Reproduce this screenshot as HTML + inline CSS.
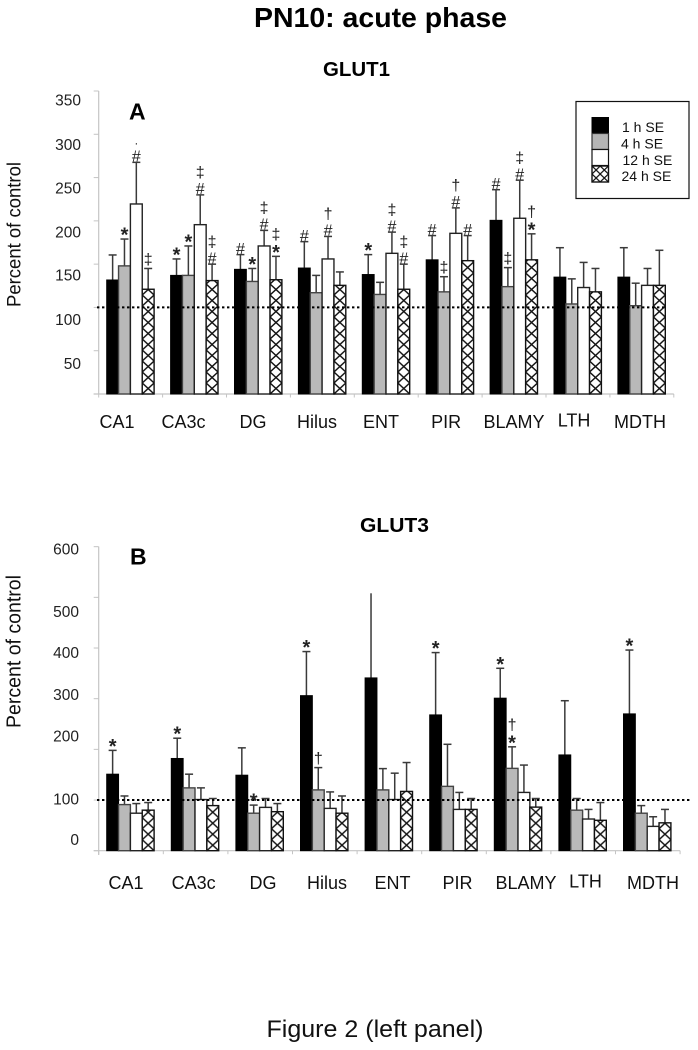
<!DOCTYPE html>
<html lang="en">
<head>
<meta charset="utf-8">
<title>PN10: acute phase</title>
<style>
html,body{margin:0;padding:0;background:#fff;}
svg{display:block;font-family:"Liberation Sans",sans-serif;}
</style>
</head>
<body>
<svg id="figure" xmlns="http://www.w3.org/2000/svg" width="698" height="1050" viewBox="0 0 698 1050">
  <defs id="defs">
    <pattern id="hatch-legend" patternUnits="userSpaceOnUse" width="8.2" height="8" x="592" y="166">
      <rect width="8.2" height="8" fill="#fff"/>
      <path d="M0 0L8.2 8M8.2 0L0 8" stroke="#111" stroke-width="1.2" fill="none"/>
    </pattern>
  </defs>
  <text x="254" y="27" font-size="27.5" font-weight="bold" textLength="253" lengthAdjust="spacingAndGlyphs" fill="#000">PN10: acute phase</text>
  <text x="323" y="76" font-size="20" font-weight="bold" textLength="67" lengthAdjust="spacingAndGlyphs" fill="#000">GLUT1</text>
  <text x="360" y="532" font-size="20" font-weight="bold" textLength="69" lengthAdjust="spacingAndGlyphs" fill="#000">GLUT3</text>
  <text x="129" y="119.5" font-size="23" font-weight="bold" fill="#000">A</text>
  <text x="130" y="564.5" font-size="23" font-weight="bold" fill="#000">B</text>
  <text transform="translate(20.5,307) rotate(-90)" font-size="19.5" textLength="145" lengthAdjust="spacingAndGlyphs" fill="#111">Percent of control</text>
  <text transform="translate(20.5,728) rotate(-90)" font-size="20" textLength="153" lengthAdjust="spacingAndGlyphs" fill="#111">Percent of control</text>
  <text x="266.5" y="1037" font-size="24" textLength="217" lengthAdjust="spacingAndGlyphs" fill="#111">Figure 2 (left panel)</text>
  <g id="chart-a"></g>
  <g id="chart-b"></g>
  <g>
    <rect x="576" y="101.5" width="113" height="97" fill="#fff" stroke="#111" stroke-width="1.2"/>
    <rect x="592" y="117.5" width="16.5" height="16" fill="#000" stroke="#000" stroke-width="1"/>
    <rect x="592" y="133.5" width="16.5" height="16" fill="#b5b5b5" stroke="#333" stroke-width="1.2"/>
    <rect x="592" y="149.5" width="16.5" height="16" fill="#fff" stroke="#111" stroke-width="1.2"/>
    <rect x="592" y="166" width="16.5" height="16" fill="url(#hatch-legend)" stroke="#111" stroke-width="1.4"/>
    <text x="622" y="132" font-size="14" fill="#111">1 h SE</text>
    <text x="621" y="148.3" font-size="14" fill="#111">4 h SE</text>
    <text x="622.5" y="165" font-size="14" fill="#111">12 h SE</text>
    <text x="621.5" y="181" font-size="14" fill="#111">24 h SE</text>
  </g>
</svg>
<script>
// ---------- data ----------
const categories = ['CA1', 'CA3c', 'DG', 'Hilus', 'ENT', 'PIR', 'BLAMY', 'LTH', 'MDTH'];
const seriesNames = ['1h', '4h', '12h', '24h'];

const glut1Mean1h = [131.7, 137, 144, 145.5, 138, 155, 200.6, 135, 135];
const glut1Mean4h = [148, 137, 130, 117, 115, 118, 124, 104, 102];
const glut1Mean12h = [219.5, 195.6, 171, 156, 162.5, 185.6, 203, 123, 125.5];
const glut1Mean24h = [121, 131, 132, 125.5, 121, 154, 155, 118, 125.5];
const glut1Upper1h = [160.6, 156, 161, 176, 161, 183, 236, 169, 169];
const glut1Upper4h = [179, 171, 145, 137, 129, 135.5, 146, 133, 128];
const glut1Upper12h = [267.6, 230, 189, 182, 187, 215, 247, 152, 145];
const glut1Upper24h = [145, 150, 159, 141, 150, 183, 185, 145, 166];
const glut1Marks1h = ['', '*', '#', '#', '*', '#', '#', '', ''];
const glut1Marks4h = ['*', '*', '*', '', '', '‡', '‡', '', ''];
const glut1Marks12h = ['#·', '#‡', '#‡', '#†', '#‡', '#†', '#‡', '', ''];
const glut1Marks24h = ['‡', '#‡', '*‡', '', '#‡', '#', '*†', '', ''];
const glut1Ticks = [0, 50, 100, 150, 200, 250, 300, 350];
const glut1TickLabels = [350, 300, 250, 200, 150, 100, 50];
const glut1Reference = 100;

const glut3Mean1h = [151, 182, 149, 306, 341, 268, 301, 189, 270];
const glut3Mean4h = [91, 124, 74, 120, 120, 127, 162.5, 80, 74];
const glut3Mean12h = [74, 101, 85.5, 83.5, 101, 81.5, 115, 62.5, 48];
const glut3Mean24h = [80, 89, 77, 74, 117, 81.5, 86, 60, 55];
const glut3Upper1h = [198, 222, 203, 393, 508, 391, 360, 296, 396];
const glut3Upper4h = [108, 151, 90, 164, 162, 210, 205, 103, 89];
const glut3Upper12h = [93, 124, 103, 116, 153, 115, 169, 81.5, 67];
const glut3Upper24h = [95, 103, 93, 108, 174, 103, 103, 95, 81.5];
const glut3Marks1h = ['*', '*', '', '*', '', '*', '*', '', '*'];
const glut3Marks4h = ['', '', '*', '†', '', '', '*†', '', ''];
const glut3Marks12h = ['', '', '', '', '', '', '', '', ''];
const glut3Marks24h = ['', '', '', '', '', '', '', '', ''];
const glut3Ticks = [0, 100, 200, 300, 400, 500, 600];
const glut3TickLabels = [600, 500, 400, 300, 200, 100, 0];
const glut3Reference = 100;

// ---------- layout ----------
const SVG_NS = 'http://www.w3.org/2000/svg';
const BAR_W = 11.85;
const seriesFill = ['#000', '#b9b9b9', '#fff', 'hatch'];
const seriesStroke = ['#000', '#444', '#222', '#111'];
const symbolHalf = {'*': 5, '#': 6.3, '‡': 9, '†': 9, '·': 5};
const symbolSize = {'*': 20, '#': 16, '‡': 16, '†': 16, '·': 12};
const symbolDrop = {'*': 7.5, '#': 5.6, '‡': 5, '†': 5, '·': 3};
const symbolStep = {'*': 8, '#': 7, '‡': 9, '†': 9, '·': 5};

const chartAConfig = {
  root: 'chart-a', prefix: 'glut1', axisX: 98.7, catWidth: 63.9, baseY: 394, pxPerUnit: 0.8657,
  tickMax: 350, refEnd: 665, axisBottom: 394, labelRight: 81, catBaseline: 428,
  catNudge: [-13.6, -11, -5.4, -5.3, -5.2, -4, 0, -3.9, -1.8],
  catDrop: [0, 0, 0, 0, 0, 0, 0, -1.5, 0],
  tickLabelShift: [9, 10, 10.5, 11, 11, 12, 12.5],
  ticks: glut1Ticks, tickLabels: glut1TickLabels, reference: glut1Reference,
  means: [glut1Mean1h, glut1Mean4h, glut1Mean12h, glut1Mean24h],
  uppers: [glut1Upper1h, glut1Upper4h, glut1Upper12h, glut1Upper24h],
  marks: [glut1Marks1h, glut1Marks4h, glut1Marks12h, glut1Marks24h],
  uncapped: []
};
const chartBConfig = {
  root: 'chart-b', prefix: 'glut3', axisX: 98.7, catWidth: 64.6, baseY: 850.7, pxPerUnit: 0.5067,
  tickMax: 600, refEnd: 692, axisBottom: 855, labelRight: 79, catBaseline: 889,
  catNudge: [-5, -2, 2.8, 2.2, 3.1, 3.5, 7.4, 2.3, 5.2],
  catDrop: [0, 0, 0, 0, 0, 0, 0, -1.5, 0],
  tickLabelShift: [2, 14, 4.6, -4.4, -13.6, -1, -11.4],
  ticks: glut3Ticks, tickLabels: glut3TickLabels, reference: glut3Reference,
  means: [glut3Mean1h, glut3Mean4h, glut3Mean12h, glut3Mean24h],
  uppers: [glut3Upper1h, glut3Upper4h, glut3Upper12h, glut3Upper24h],
  marks: [glut3Marks1h, glut3Marks4h, glut3Marks12h, glut3Marks24h],
  uncapped: ['4:0']
};

function drawChart(cfg) {
  const root = document.getElementById(cfg.root);
  const defs = document.getElementById('defs');
  const yPos = function (v) { return cfg.baseY - v * cfg.pxPerUnit; };
  const catStart = function (i) { return cfg.axisX + i * cfg.catWidth; };
  const barX = function (i, s) { return catStart(i) + 8 + s * BAR_W; };
  const make = function (tag, attrs, parent) {
    const node = document.createElementNS(SVG_NS, tag);
    Object.keys(attrs).forEach(function (k) { node.setAttribute(k, attrs[k]); });
    (parent || root).appendChild(node);
    return node;
  };

  const yAxis = make('line', {x1: cfg.axisX, x2: cfg.axisX, y1: yPos(cfg.tickMax), y2: cfg.axisBottom, stroke: '#c4c4c4', 'stroke-width': 1.2});
  
  
  const xAxis = make('line', {x1: cfg.axisX - 5, x2: catStart(categories.length), y1: cfg.baseY, y2: cfg.baseY, stroke: '#c4c4c4', 'stroke-width': 1.2});
  
  

  cfg.ticks.forEach(function (v) {
    const tick = make('line', {x1: cfg.axisX - 5, x2: cfg.axisX, y1: yPos(v), y2: yPos(v), stroke: '#c4c4c4', 'stroke-width': 1});
    
    
  });
  cfg.tickLabels.forEach(function (v, k) {
    const label = make('text', {x: cfg.labelRight, y: yPos(v) + cfg.tickLabelShift[k] + 5.6, 'text-anchor': 'end', 'font-size': 15.5, fill: '#222'});
    label.textContent = String(v);
    
    
  });
  for (let i = 0; i <= categories.length; i++) {
    const tick = make('line', {x1: catStart(i), x2: catStart(i), y1: cfg.baseY, y2: cfg.baseY + 3.5, stroke: '#c4c4c4', 'stroke-width': 1});
    
    
  }
  categories.forEach(function (name, i) {
    const label = make('text', {x: catStart(i) + cfg.catWidth / 2 + cfg.catNudge[i], y: cfg.catBaseline + cfg.catDrop[i], 'text-anchor': 'middle', 'font-size': 18, fill: '#111'});
    label.textContent = name;
    
    
  });

  // error bars sit behind the bars' top edge
  seriesNames.forEach(function (sName, s) {
    categories.forEach(function (cat, i) {
      const cx = barX(i, s) + BAR_W / 2;
      const top = yPos(cfg.uppers[s][i]);
      const whisker = make('line', {x1: cx, x2: cx, y1: yPos(cfg.means[s][i]), y2: top, stroke: '#3a3a3a', 'stroke-width': 1.5});
      
      
      if (cfg.uncapped.indexOf(i + ':' + s) === -1) {
        const cap = make('line', {x1: cx - 4, x2: cx + 4, y1: top, y2: top, stroke: '#3a3a3a', 'stroke-width': 1.5});
        
        
      }
    });
  });

  seriesNames.forEach(function (sName, s) {
    categories.forEach(function (cat, i) {
      const v = cfg.means[s][i];
      let fill = seriesFill[s];
      if (fill === 'hatch') {
        // one hatch tile per bar so the diamonds stay centred on the bar
        const pid = cfg.prefix + '-hatch-' + i;
        const pat = make('pattern', {id: pid, patternUnits: 'userSpaceOnUse', x: barX(i, s), y: cfg.baseY, width: BAR_W, height: 11}, defs);
        make('rect', {width: BAR_W, height: 11, fill: '#fff'}, pat);
        make('path', {d: 'M0 0L' + BAR_W + ' 11M' + BAR_W + ' 0L0 11', stroke: '#111', 'stroke-width': 1.4, fill: 'none'}, pat);
        fill = 'url(#' + pid + ')';
      }
      const bar = make('rect', {x: barX(i, s), y: yPos(v), width: BAR_W, height: cfg.baseY - yPos(v), fill: fill, stroke: seriesStroke[s], 'stroke-width': s === 0 ? 1 : 1.4});
      
      
    });
  });

  const ref = make('line', {x1: 97, x2: cfg.refEnd, y1: yPos(cfg.reference), y2: yPos(cfg.reference), stroke: '#000', 'stroke-width': 2, 'stroke-dasharray': '2.4 2.6'});
  
  

  seriesNames.forEach(function (sName, s) {
    categories.forEach(function (cat, i) {
      const cx = barX(i, s) + BAR_W / 2;
      let cursor = yPos(cfg.uppers[s][i]);
      Array.from(cfg.marks[s][i]).forEach(function (sym) {
        const center = cursor - symbolHalf[sym];
        const mark = make('text', {x: cx, y: center + symbolDrop[sym], 'text-anchor': 'middle', 'font-size': symbolSize[sym], 'font-weight': sym === '*' ? 'bold' : 'normal', fill: '#222'});
        mark.textContent = sym;
        
        
        cursor = center - symbolStep[sym];
      });
    });
  });
}

drawChart(chartAConfig);
drawChart(chartBConfig);
</script>
</body>
</html>
